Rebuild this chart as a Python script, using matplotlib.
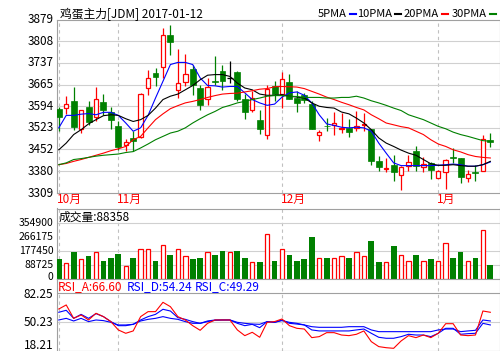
import matplotlib
matplotlib.use('Agg')
import matplotlib.pyplot as plt
from matplotlib.patches import Rectangle
from matplotlib.lines import Line2D
from matplotlib.transforms import blended_transform_factory as btf
import numpy as np

plt.rcParams['font.family'] = ['Noto Sans CJK SC', 'DejaVu Sans']

# ---------------- data ----------------
opens = [3586, 3587, 3611, 3519, 3590, 3558, 3608, 3574, 3529, 3466,
         3490, 3494, 3653, 3703, 3723, 3829, 3646, 3673, 3716, 3654,
         3618, 3676, 3709, 3687, 3707, 3618, 3581, 3549, 3501, 3659,
         3634, 3673, 3621, 3630, 3601, 3498, 3530, 3531, 3519, 3523,
         3523, 3531, 3519, 3413, 3389, 3401, 3369, 3399, 3448, 3393,
         3407, 3359, 3377, 3428, 3423, 3359, 3379, 3382, 3482]
highs = [3590, 3627, 3657, 3582, 3612, 3657, 3634, 3590, 3547, 3488,
         3512, 3639, 3713, 3720, 3851, 3862, 3782, 3766, 3728, 3665,
         3687, 3758, 3731, 3743, 3709, 3634, 3645, 3581, 3665, 3678,
         3707, 3700, 3645, 3637, 3610, 3517, 3555, 3575, 3572, 3552,
         3580, 3572, 3519, 3429, 3424, 3434, 3398, 3434, 3463, 3426,
         3410, 3385, 3422, 3457, 3423, 3384, 3402, 3501, 3506]
lows = [3512, 3568, 3517, 3506, 3534, 3544, 3566, 3520, 3451, 3446,
        3448, 3490, 3630, 3659, 3687, 3763, 3621, 3662, 3632, 3583,
        3597, 3663, 3649, 3670, 3610, 3553, 3574, 3504, 3485, 3612,
        3588, 3618, 3575, 3605, 3520, 3481, 3512, 3498, 3506, 3493,
        3512, 3512, 3402, 3382, 3378, 3350, 3320, 3382, 3382, 3377,
        3356, 3359, 3322, 3409, 3343, 3345, 3350, 3382, 3459]
closes = [3560, 3601, 3527, 3581, 3543, 3618, 3582, 3550, 3461, 3478,
          3481, 3633, 3686, 3689, 3827, 3806, 3669, 3700, 3664, 3599,
          3657, 3674, 3676, 3687, 3619, 3575, 3621, 3520, 3652, 3633,
          3682, 3619, 3606, 3615, 3520, 3508, 3528, 3539, 3523, 3511,
          3528, 3536, 3415, 3396, 3392, 3378, 3396, 3412, 3397, 3405,
          3383, 3381, 3419, 3424, 3363, 3370, 3376, 3485, 3475]

ma5 = [3523, 3564, 3564, 3568, 3570, 3566, 3574, 3574, 3564, 3539,
       3512, 3523, 3564, 3621, 3676, 3731, 3738, 3738, 3731, 3687,
       3662, 3661, 3657, 3659, 3659, 3638, 3616, 3605, 3597, 3601,
       3624, 3638, 3641, 3630, 3605, 3566, 3536, 3531, 3525, 3523,
       3525, 3523, 3512, 3473, 3440, 3408, 3399, 3399, 3399, 3399,
       3399, 3400, 3402, 3404, 3402, 3397, 3397, 3402, 3411]
ma10 = [3451, 3473, 3501, 3517, 3536, 3550, 3563, 3566, 3564, 3553,
        3544, 3550, 3564, 3588, 3616, 3627, 3634, 3648, 3662, 3681,
        3696, 3698, 3698, 3692, 3670, 3654, 3648, 3634, 3630, 3630,
        3632, 3627, 3624, 3621, 3605, 3594, 3590, 3588, 3575, 3569,
        3555, 3539, 3517, 3490, 3473, 3462, 3450, 3440, 3433, 3419,
        3405, 3400, 3400, 3402, 3399, 3397, 3397, 3402, 3413]
ma20 = [3402, 3406, 3413, 3419, 3426, 3433, 3440, 3448, 3454, 3462,
        3484, 3495, 3523, 3550, 3569, 3586, 3596, 3605, 3610, 3616,
        3623, 3629, 3634, 3636, 3637, 3641, 3645, 3650, 3652, 3658,
        3659, 3658, 3657, 3652, 3643, 3634, 3624, 3616, 3607, 3599,
        3590, 3582, 3566, 3553, 3539, 3533, 3527, 3523, 3512, 3501,
        3484, 3470, 3462, 3451, 3444, 3435, 3429, 3426, 3424]
ma30 = [3402, 3408, 3419, 3422, 3426, 3430, 3433, 3435, 3437, 3442,
        3445, 3457, 3470, 3484, 3495, 3506, 3512, 3523, 3539, 3553,
        3566, 3577, 3590, 3597, 3605, 3610, 3616, 3621, 3627, 3629,
        3629, 3627, 3626, 3623, 3623, 3623, 3621, 3621, 3623, 3623,
        3627, 3621, 3612, 3605, 3597, 3588, 3580, 3566, 3558, 3550,
        3539, 3528, 3520, 3509, 3501, 3495, 3488, 3481, 3479]

volumes = [123600, 102500, 168000, 123600, 142600, 174000, 117000, 130000, 161600, 83500,
           130000, 193000, 187000, 117000, 218600, 155000, 193000, 142600, 123600, 136000,
           168000, 155000, 180600, 168000, 180600, 130000, 104600, 104600, 286000, 117000,
           193000, 149000, 117000, 123600, 269000, 130000, 136000, 136000, 147000, 136000,
           174000, 142600, 237700, 104600, 104600, 206000, 155000, 117000, 149000, 111000,
           123600, 117000, 231000, 130000, 168000, 111000, 130000, 313700, 88358]

rsi_a = [64.9, 69.4, 54.6, 58.3, 52.8, 60.2, 56.5, 51.0, 41.8, 38.1,
         40.7, 56.5, 62.0, 62.0, 72.3, 67.5, 56.5, 52.8, 46.5, 41.4,
         49.1, 52.8, 52.8, 52.8, 41.8, 35.5, 39.2, 33.7, 50.2, 51.0,
         53.9, 46.5, 43.6, 42.8, 33.3, 34.4, 38.8, 38.8, 36.2, 35.5,
         37.0, 40.7, 28.9, 23.4, 22.2, 21.5, 29.6, 35.5, 33.3, 36.2,
         33.3, 38.1, 48.7, 48.7, 36.2, 35.5, 36.2, 62.7, 61.3]
rsi_d = [61.3, 63.5, 54.6, 59.0, 54.6, 59.8, 56.5, 51.0, 46.5, 46.5,
         48.0, 52.8, 56.5, 59.0, 64.6, 62.7, 55.4, 53.5, 51.0, 49.1,
         51.0, 52.4, 52.8, 52.8, 49.1, 46.5, 48.0, 44.3, 51.0, 50.2,
         52.8, 49.1, 48.3, 47.3, 45.4, 44.7, 44.7, 44.7, 44.7, 45.4,
         45.4, 45.4, 41.8, 39.9, 39.9, 39.9, 39.9, 39.9, 39.9, 39.9,
         39.9, 41.8, 42.8, 42.8, 39.9, 40.7, 41.4, 52.8, 51.7]
rsi_c = [52.8, 54.6, 51.7, 54.6, 51.0, 52.8, 52.1, 50.2, 47.3, 47.3,
         48.0, 51.7, 53.5, 54.6, 56.5, 54.6, 53.5, 51.0, 49.1, 49.1,
         51.7, 52.8, 52.8, 52.8, 50.2, 49.1, 48.3, 48.0, 51.0, 50.2,
         52.1, 50.2, 49.1, 47.3, 41.8, 40.7, 40.7, 40.7, 40.7, 40.7,
         41.8, 42.8, 38.1, 33.7, 32.6, 32.6, 34.4, 37.0, 36.2, 36.2,
         34.4, 38.1, 43.6, 43.6, 37.0, 37.7, 38.1, 49.1, 47.3]

price_ticks = [3309, 3380, 3452, 3523, 3594, 3665, 3737, 3808, 3879]
vol_ticks = [0, 88725, 177450, 266175, 354900]
vol_grid = [88725, 177450, 354900]
rsi_ticks = [18.21, 50.23, 82.25]
month_labels = ['10月', '11月', '12月', '1月']
month_index = [0, 8, 30, 51]
title = '鸡蛋主力[JDM] 2017-01-12'
vol_title = '成交量:88358'
rsi_labels = ['RSI_A:66.60', 'RSI_D:54.24', 'RSI_C:49.29']
ma_names = ['5PMA', '10PMA', '20PMA', '30PMA']

# ---------------- style ----------------
RED = '#ff0000'
GREEN = '#008000'
BLUE = '#0000ff'
BLACK = '#000000'
GRID = '#d0d0d0'
SPINE = '#a0a0a0'
FS = 8.5

W, H = 500, 351
fig = plt.figure(figsize=(W / 100, H / 100), dpi=100)
fig.patch.set_facecolor('white')


def rect(x0, y0, x1, y1):
    return [x0 / W, 1 - y1 / H, (x1 - x0) / W, (y1 - y0) / H]


ax = fig.add_axes(rect(57, 19.5, 499.5, 193))
axv = fig.add_axes(rect(57, 208.5, 499.5, 278.5))
axr = fig.add_axes(rect(57, 278.5, 499.5, 350.5))

n = len(opens)
x = np.arange(n)
XL = (-0.24, 59.23)

for a in (ax, axv, axr):
    a.set_xlim(*XL)
    a.set_xticks([])
    a.set_yticks([])
    for s in a.spines.values():
        s.set_color(SPINE)
        s.set_linewidth(0.8)
    for mi in month_index:
        a.axvline(mi, color='#c0c0c0', lw=0.8, ls=(0, (3, 3)), zorder=0)

# ---------------- main panel ----------------
ax.set_ylim(price_ticks[0], price_ticks[-1])
for v in price_ticks[1:-1]:
    ax.axhline(v, color=GRID, lw=0.8, zorder=0)

for i in range(n):
    o, h, l, c = opens[i], highs[i], lows[i], closes[i]
    if c > o:
        ax.vlines(i, l, o, color=RED, lw=0.9, zorder=3)
        ax.vlines(i, c, h, color=RED, lw=0.9, zorder=3)
        ax.add_patch(Rectangle((i - 0.3, o), 0.6, c - o, facecolor='white',
                               edgecolor=RED, lw=0.9, zorder=4))
    elif c < o:
        ax.vlines(i, l, h, color=GREEN, lw=0.9, zorder=3)
        ax.add_patch(Rectangle((i - 0.4, c), 0.8, o - c, facecolor=GREEN,
                               edgecolor=GREEN, lw=0.5, zorder=4))
    else:
        ax.vlines(i, l, h, color=BLACK, lw=0.9, zorder=3)
        ax.hlines(o, i - 0.4, i + 0.4, color=BLACK, lw=0.9, zorder=4)

ma_colors = [BLUE, BLACK, RED, GREEN]
for ser, col in zip([ma5, ma10, ma20, ma30], ma_colors):
    ax.plot(x, ser, color=col, lw=0.8, zorder=5)

# ---------------- volume panel ----------------
axv.set_ylim(3169, 446794)
for v in vol_grid:
    axv.axhline(v, color=GRID, lw=0.8, zorder=0)
for i in range(n):
    if closes[i] >= opens[i]:
        axv.add_patch(Rectangle((i - 0.3, 0), 0.6, volumes[i], facecolor='white',
                                edgecolor=RED, lw=0.9, zorder=3))
    else:
        axv.bar(i, volumes[i], width=0.78, color=GREEN, zorder=3)

# ---------------- RSI panel ----------------
axr.set_ylim(19.1, 98.59)
axr.axhline(rsi_ticks[2], color=SPINE, lw=0.8, zorder=1)
axr.axhline(rsi_ticks[1], color=GRID, lw=0.8, zorder=0)
axr.plot(x, rsi_c, color=BLUE, lw=0.8, zorder=3)
axr.plot(x, rsi_d, color=BLUE, lw=0.8, zorder=3)
axr.plot(x, rsi_a, color=RED, lw=0.8, zorder=4)

# ---------------- left labels ----------------
def left_labels(a, vals, labs, fs, top_min=None, bottom_max=None):
    for v, s in zip(vals, labs):
        ypix = H - a.transData.transform((0, v))[1]
        if top_min is not None:
            ypix = max(ypix, top_min)
        if bottom_max is not None:
            ypix = min(ypix, bottom_max)
        fig.text(53.5 / W, 1 - ypix / H, s, ha='right', va='center',
                 fontsize=fs, color=BLACK)


left_labels(ax, price_ticks, [str(v) for v in price_ticks], FS)
left_labels(axv, vol_ticks, [str(v) for v in vol_ticks], 7.5, bottom_max=276.5)
left_labels(axr, rsi_ticks, ['%.2f' % v for v in rsi_ticks], FS, top_min=295, bottom_max=345.5)

# ---------------- texts ----------------
fig.text(60 / W, 1 - 14 / H, title, ha='left', va='center', fontsize=FS)

leg_x = [318, 357, 404, 452]
leg_texts = []
for name, lx in zip(ma_names, leg_x):
    leg_texts.append(fig.text(lx / W, 1 - 14 / H, name, ha='left', va='center',
                              fontsize=8))
fig.canvas.draw()
r = fig.canvas.get_renderer()
for t, col in zip(leg_texts, ma_colors):
    bb = t.get_window_extent(r)
    x0 = bb.x1 + 3
    fig.add_artist(Line2D([x0 / W, (x0 + 6) / W], [1 - 13.5 / H, 1 - 13.5 / H],
                          color=col, lw=1.5))

trans = btf(ax.transData, fig.transFigure)
for lab, mi in zip(month_labels, month_index):
    fig.text(mi - 0.2, 1 - 199.5 / H, lab, transform=trans, ha='left', va='center',
             fontsize=FS, color=RED)

fig.text(58.5 / W, 1 - 217.5 / H, vol_title, ha='left', va='center', fontsize=FS)

for s, col, lx in zip(rsi_labels, [RED, BLUE, BLUE], [58, 126.5, 195]):
    fig.text(lx / W, 1 - 286.5 / H, s, ha='left', va='center', fontsize=FS, color=col)

fig.savefig('out.png', dpi=100, facecolor='white')
